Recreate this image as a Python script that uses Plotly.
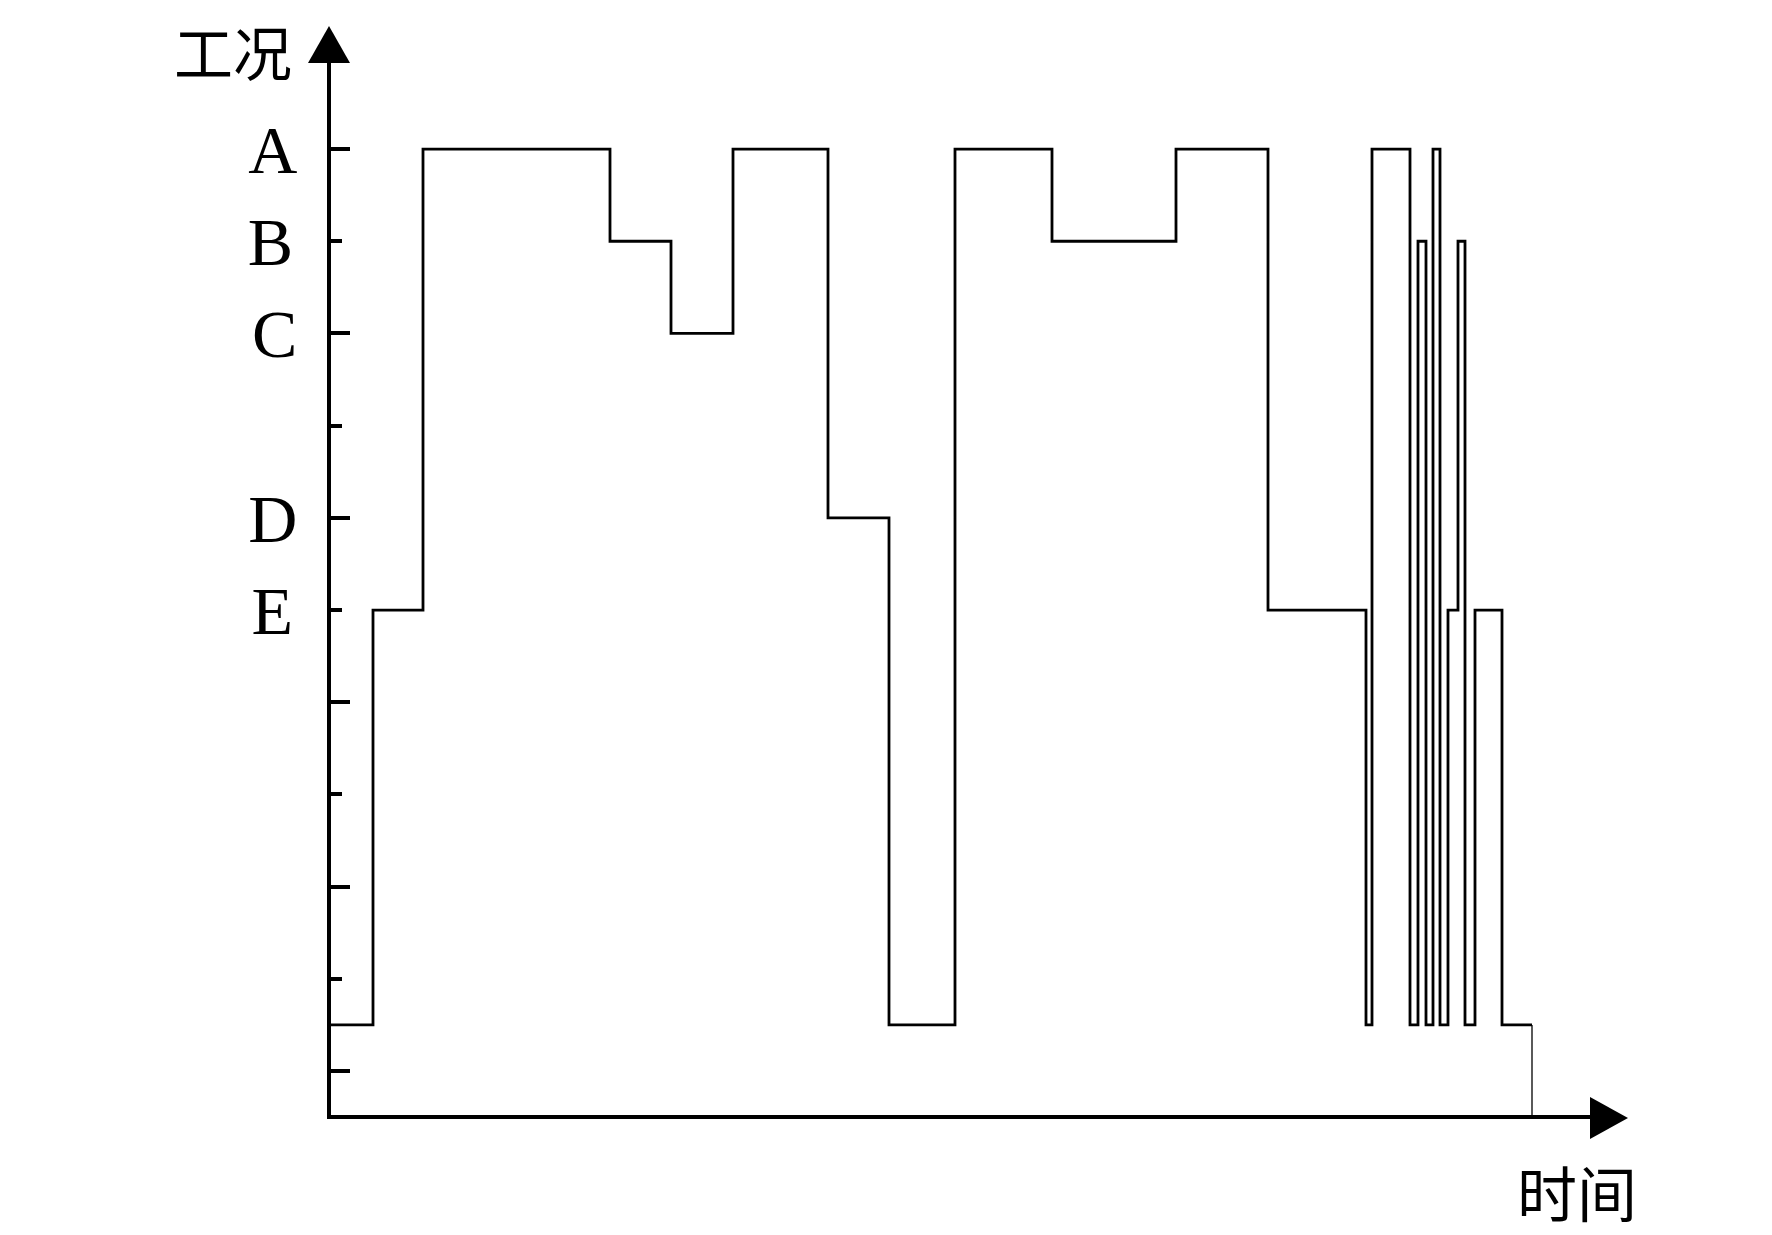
import plotly.graph_objects as go

# ---- data ----
# time at which each operating condition begins (arbitrary time units)
t_start = [0.0, 4.4, 9.4, 28.1, 34.2, 40.4, 49.9, 56.0, 62.6, 72.3, 84.7, 93.9,
           103.7, 104.3, 108.1, 108.9, 109.7, 110.4, 111.1, 111.9, 112.9, 113.6,
           114.6, 117.3]
t_end = 120.3
states = ["L", "E", "A", "B", "C", "A", "D", "L", "A", "B", "A", "E",
          "L", "A", "L", "B", "L", "A", "L", "E", "B", "L", "E", "L"]
# level positions on the y scale (L = lowest condition)
level_pos = {"A": 10, "B": 9, "C": 8, "D": 6, "E": 5, "L": 0.5}
major_ticks = [0, 2, 4, 6, 8, 10]
minor_ticks = [1, 3, 5, 7, 9]
major_labels = ["", "", "", "D", "C", "A"]
side_label_vals = [9, 5]
side_labels = ["B", "E"]
x_title = "时间"
y_title = "工况"

OFF = 8  # page body margin
W, H = 1772 - OFF, 1235 - OFF
L, R, T, B = 331, 1592, 62, 1115  # plot area in page pixels
YMIN, YMAX = -0.477, 10.944
XMIN, XMAX = 0.2, 126.3

xs = t_start + [t_end]
ys = [level_pos[s] for s in states] + [level_pos[states[-1]]]

fig = go.Figure()
fig.add_trace(go.Scatter(x=xs, y=ys, mode="lines", line=dict(color="black", width=2.8, shape="hv"),
                         hoverinfo="skip", showlegend=False))
fig.add_trace(go.Scatter(x=[t_end, t_end], y=[level_pos[states[-1]], YMIN], mode="lines",
                         line=dict(color="black", width=1.3), yaxis="y2",
                         hoverinfo="skip", showlegend=False))

def px(xp):
    return (xp - L) / (R - L)

def py(yp):
    return (B - yp) / (B - T)

shapes = [
    dict(type="path", xref="paper", yref="paper",
         path=f"M {px(329)} {py(26)} L {px(308)} {py(63)} L {px(350)} {py(63)} Z",
         fillcolor="black", line=dict(width=0)),
    dict(type="path", xref="paper", yref="paper",
         path=f"M {px(1628)} {py(1118)} L {px(1590)} {py(1097)} L {px(1590)} {py(1139)} Z",
         fillcolor="black", line=dict(width=0)),
]

serif = "Liberation Serif, Times New Roman, serif"
cjk = "Noto Sans CJK SC"

annotations = [
    dict(text=y_title, xref="paper", yref="paper", x=px(294), y=py(51), xanchor="right", yanchor="middle",
         showarrow=False, font=dict(family=cjk, size=59, color="black")),
    dict(text=x_title, xref="paper", yref="paper", x=px(1577), y=py(1190), xanchor="center", yanchor="middle",
         showarrow=False, font=dict(family=cjk, size=60, color="black")),
]

fig.update_layout(
    width=W, height=H,
    margin=dict(l=L - OFF, r=W - (R - OFF), t=T - OFF, b=H - (B - OFF), pad=0),
    paper_bgcolor="white", plot_bgcolor="white",
    xaxis=dict(range=[XMIN, XMAX], showline=True, linecolor="black", linewidth=4,
               showticklabels=False, ticks="", showgrid=False, zeroline=False, fixedrange=True),
    yaxis=dict(range=[YMIN, YMAX], showline=True, linecolor="black", linewidth=4,
               tickmode="array", tickvals=major_ticks, ticktext=major_labels,
               ticks="inside", ticklen=19, tickwidth=3.5, tickcolor="black",
               minor=dict(tickmode="array", tickvals=minor_ticks, ticks="inside", ticklen=11,
                          tickwidth=3.5, tickcolor="black", showgrid=False),
               ticklabelstandoff=16,
               tickfont=dict(family=serif, size=68, color="black"),
               showgrid=False, zeroline=False, fixedrange=True),
    yaxis2=dict(range=[YMIN, YMAX], overlaying="y", side="left", showline=False,
                tickmode="array", tickvals=side_label_vals, ticktext=side_labels, ticks="",
                ticklabelstandoff=37,
                tickfont=dict(family=serif, size=68, color="black"),
                showgrid=False, zeroline=False, fixedrange=True),
    shapes=shapes, annotations=annotations,
)

fig.write_html("out.html")
